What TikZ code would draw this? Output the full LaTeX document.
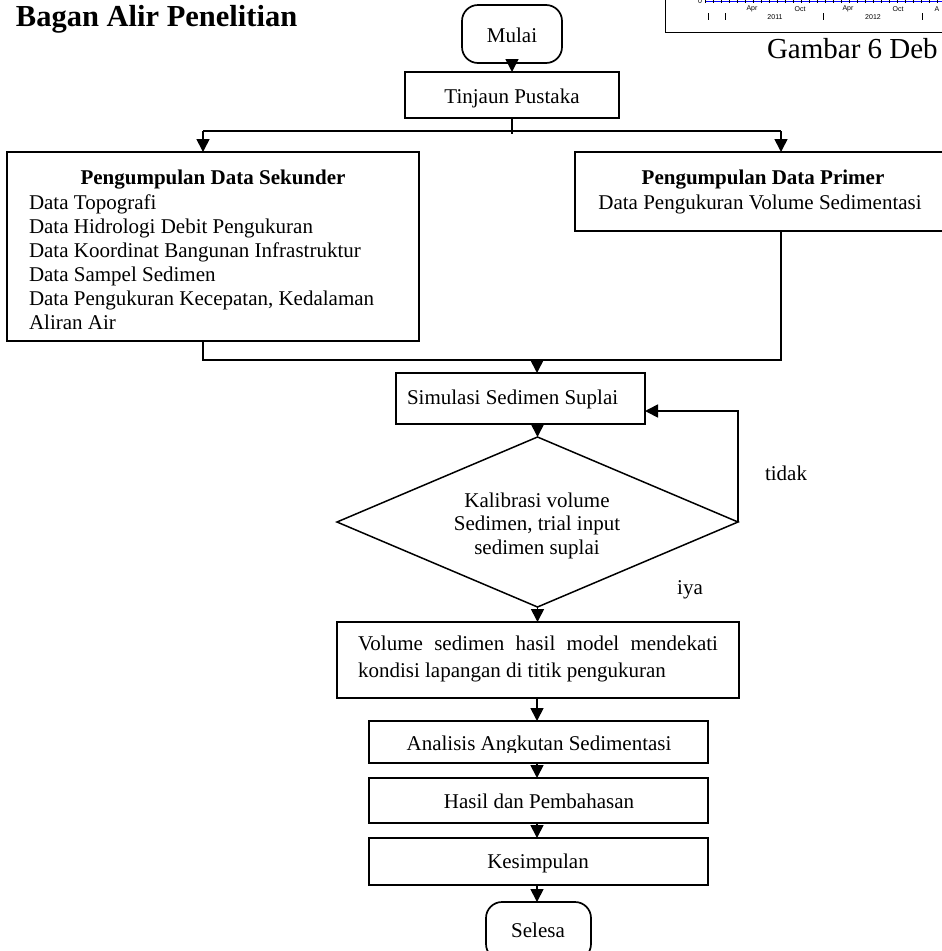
\documentclass[tikz,border=0pt]{standalone}
\usepackage{fontspec}
\setmainfont{Liberation Serif}
\newfontfamily\chartfont{Liberation Sans}
\usetikzlibrary{shapes.geometric,arrows.meta}
\begin{document}
\begin{tikzpicture}[x=1pt,y=-1pt,
  every node/.style={inner sep=0pt, outer sep=0pt},
  txt/.style={font=\fontsize{21}{24}\selectfont},
  btxt/.style={font=\fontsize{21}{24}\selectfont\bfseries},
  boxn/.style={draw, line width=1.7pt, rectangle},
  roundbox/.style={draw, line width=1.7pt, rectangle, rounded corners=16pt},
  decision/.style={draw, line width=1.5pt, diamond},
  arr/.style={line width=1.7pt, -{Triangle[length=13pt,width=13pt]}},
  ln/.style={line width=1.7pt},
  chart/.style={font=\chartfont\fontsize{7}{7}\selectfont},
]
\useasboundingbox (0,0) rectangle (942,951);
\clip (0,0) rectangle (942,951);

% fragment of neighbouring chart (top right)
\draw[line width=1pt] (665,-2) -- (665,32) -- (946,32);
\draw[blue, line width=1pt] (705,1) -- (946,1);
\foreach \x in {705,713,...,945} \draw[line width=0.5pt] (\x,-1) -- (\x,3);
\node[chart] (c0) at (700,1.5) {0};
\node[chart] (m1) at (752,9) {Apr};
\node[chart] (m2) at (800,9) {Oct};
\node[chart] (m3) at (848,9) {Apr};
\node[chart] (m4) at (898,9) {Oct};
\node[chart] (m5) at (937,9) {A};
\node[chart] (y1) at (775,17) {2011};
\node[chart] (y2) at (873,17) {2012};
\foreach \x in {708,725,823,922} \draw[line width=0.8pt] (\x,13) -- (\x,20);
\node[anchor=base west, font=\fontsize{29}{32}\selectfont] (gam) at (767,58) {Gambar 6 Deb};

% title
\node[anchor=base west, font=\bfseries\fontsize{30.5}{32}\selectfont] (title) at (16,26) {Bagan Alir Penelitian};

% boxes
\node[roundbox, minimum width=100pt, minimum height=58pt] (mulai) at (512,34) {};
\node[boxn, minimum width=214pt, minimum height=46pt] (tinjau) at (512,95) {};
\node[boxn, minimum width=412pt, minimum height=189pt] (sek) at (213,246.5) {};
\node[boxn, minimum width=371pt, minimum height=79pt] (prim) at (760.5,191.5) {};
\node[boxn, minimum width=249pt, minimum height=51pt] (sim) at (520.5,398.5) {};
\node[decision, minimum width=401pt, minimum height=170pt] (kal) at (537.5,522) {};
\node[boxn, minimum width=402pt, minimum height=76pt] (vol) at (538,660) {};
\node[boxn, minimum width=339pt, minimum height=42pt] (ana) at (538.5,742) {};
\node[boxn, minimum width=339pt, minimum height=45pt] (has) at (538.5,800.5) {};
\node[boxn, minimum width=339pt, minimum height=47pt] (kes) at (538.5,861.5) {};
\node[roundbox, minimum width=105pt, minimum height=58pt] (sel) at (538.5,931) {};

% texts
\node[txt, anchor=base] (tmulai) at (512,42) {Mulai};
\node[txt, anchor=base] (ttinjau) at (512,103) {Tinjaun Pustaka};
\node[btxt, anchor=base] (tsek) at (213,184) {Pengumpulan Data Sekunder};
\node[txt, anchor=base west] (s1) at (29,209) {Data Topografi};
\node[txt, anchor=base west] (s2) at (29,233) {Data Hidrologi Debit Pengukuran};
\node[txt, anchor=base west] (s3) at (29,257) {Data Koordinat Bangunan Infrastruktur};
\node[txt, anchor=base west] (s4) at (29,281) {Data Sampel Sedimen};
\node[txt, anchor=base west] (s5) at (29,305) {Data Pengukuran Kecepatan, Kedalaman};
\node[txt, anchor=base west] (s6) at (29,329) {Aliran Air};
\node[btxt, anchor=base] (tprim) at (763,184) {Pengumpulan Data Primer};
\node[txt, anchor=base] (p1) at (760,209) {Data Pengukuran Volume Sedimentasi};
\node[txt, anchor=base west] (tsim) at (407,404) {Simulasi Sedimen Suplai};
\node[txt, anchor=base] (k1) at (537,507) {Kalibrasi volume};
\node[txt, anchor=base] (k2) at (537,530) {Sedimen, trial input};
\node[txt, anchor=base] (k3) at (537,554) {sedimen suplai};
\node[txt, anchor=base] (ttidak) at (786,480) {tidak};
\node[txt, anchor=base] (tiya) at (690,594) {iya};
\node[txt, anchor=base west] (v1) at (358,650) {\makebox[360pt][s]{Volume sedimen hasil model mendekati}};
\node[txt, anchor=base west] (v2) at (358,677) {kondisi lapangan di titik pengukuran};
\begin{scope}
\clip (369,721) rectangle (708,752);
\node[txt, anchor=base] (tana) at (539,750) {Analisis Angkutan Sedimentasi};
\end{scope}
\node[txt, anchor=base] (thas) at (539,808) {Hasil dan Pembahasan};
\node[txt, anchor=base] (tkes) at (538,868) {Kesimpulan};
\node[txt, anchor=base] (tsel) at (538,937) {Selesa};

% connectors
\draw[arr] (mulai.south) -- (tinjau.north);
\coordinate (lj) at (203,131);
\coordinate (rj) at (781,131);
\draw[ln] (tinjau.south) -- (512,134);
\draw[ln] (lj) -- (rj);
\draw[arr] (lj) -- (lj |- sek.north);
\draw[arr] (rj) -- (rj |- prim.north);
\coordinate (lb) at (203,360);
\coordinate (rb) at (781,360);
\coordinate (mb) at (537,360);
\draw[ln] (lb |- sek.south) -- (lb) -- (rb) -- (rb |- prim.south);
\draw[arr] (mb) -- (mb |- sim.north);
\draw[arr] (kal.north |- sim.south) -- (kal.north);
\coordinate (lp) at (738,411);
\draw[arr] (kal.east) -- (kal.east |- lp) -- (sim.east |- lp);
\draw[arr] (kal.south) -- (kal.south |- vol.north);
\draw[arr] (mb |- vol.south) -- (mb |- ana.north);
\draw[arr] (mb |- ana.south) -- (mb |- has.north);
\draw[arr] (mb |- has.south) -- (mb |- kes.north);
\draw[arr] (mb |- kes.south) -- (mb |- sel.north);
\end{tikzpicture}
\end{document}
